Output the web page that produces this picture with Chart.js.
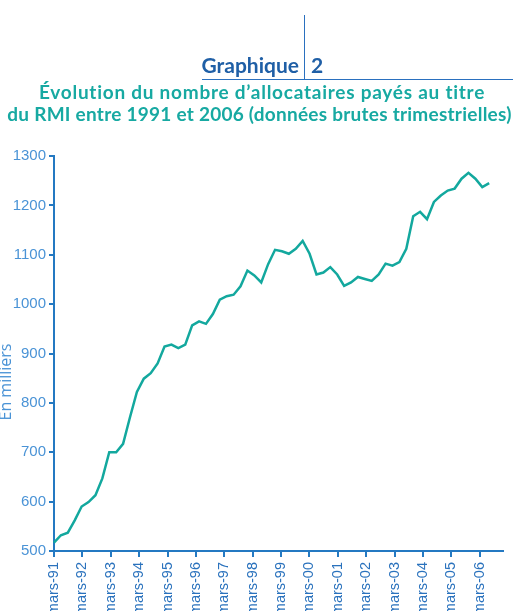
<!DOCTYPE html>
<html lang="fr">
<head>
<meta charset="utf-8">
<title>Graphique 2 - allocataires du RMI</title>
<script src="https://cdn.jsdelivr.net/npm/chart.js@4.4.1/dist/chart.umd.min.js"></script>
<style>
  html, body { margin: 0; padding: 0; background: #fff; overflow: hidden; }
  .wrap { position: relative; width: 513px; height: 611px; }
  #chart { position: absolute; left: 0; top: 0; }
  .head { position: absolute; font-family: Lato, "Open Sans", sans-serif; font-weight: 700; white-space: nowrap; }
  .graphique { left: 0; width: 299px; top: 52px; text-align: right; color: #1f5fa6; font-size: 21px; line-height: 25px; }
  .numero { left: 311px; top: 52px; color: #1f5fa6; font-size: 21px; line-height: 25px; }
  .titre { left: 0; text-align: center; color: #17a9a2; font-size: 19px; line-height: 22px; }
  .vline { position: absolute; left: 303.5px; top: 15px; width: 1.5px; height: 65px; background: #2a70bf; }
  .hline { position: absolute; left: 202px; top: 78.5px; width: 311px; height: 1.5px; background: #2a70bf; }
  .unite { position: absolute; left: -55px; top: 374px; width: 120px; height: 16px; line-height: 16px;
           text-align: center; transform: rotate(-90deg); font-family: "Open Sans", sans-serif; font-size: 16px;
           color: #4a93d6; white-space: nowrap; }
</style>
</head>
<body>
<div class="wrap">
  <canvas id="chart" width="513" height="611"></canvas>
  <div class="vline"></div>
  <div class="hline"></div>
  <div class="head graphique">Graphique</div>
  <div class="head numero">2</div>
  <div class="head titre" style="top: 81px; width: 524px; letter-spacing: 0.75px;">Évolution du nombre d’allocataires payés au titre</div>
  <div class="head titre" style="top: 103px; width: 519px; letter-spacing: 0.25px;">du RMI entre 1991 et 2006 (données brutes trimestrielles)</div>
  <div class="unite">En milliers</div>
</div>
<script>
  "use strict";

  var years = ['91', '92', '93', '94', '95', '96', '97', '98', '99', '00', '01', '02', '03', '04', '05', '06', '07'];
  var months = ['mars', 'juin', 'sept', 'déc'];
  var yearTicks = ['mars-91', 'mars-92', 'mars-93', 'mars-94', 'mars-95', 'mars-96', 'mars-97', 'mars-98',
    'mars-99', 'mars-00', 'mars-01', 'mars-02', 'mars-03', 'mars-04', 'mars-05', 'mars-06'];

  // allocataires payés, en milliers, mars-91 -> déc-06
  var allocataires = [
    517, 532, 537, 562, 590, 599, 613, 647, 700, 700, 717, 771, 822, 849, 860, 880,
    914, 918, 911, 918, 957, 965, 960, 980, 1009, 1016, 1019, 1036, 1068, 1058, 1044, 1081,
    1110, 1107, 1102, 1112, 1128, 1102, 1060, 1064, 1075, 1060, 1037, 1044, 1055, 1051, 1047, 1060,
    1082, 1078, 1085, 1112, 1178, 1187, 1172, 1207, 1220, 1230, 1234, 1254, 1266, 1254, 1237, 1245
  ];

  var quarters = [];
  years.forEach(function (y) {
    months.forEach(function (m) {
      quarters.push(m + '-' + y);
    });
  });
  quarters = quarters.slice(0, allocataires.length + 2);

  var axisBlue = '#2479c2';
  var tickFont = '"Liberation Sans", Arial, sans-serif';

  var ctx = document.getElementById('chart').getContext('2d');
  var chart = new Chart(ctx, {
    type: 'line',
    data: {
      labels: quarters,
      datasets: [{
        data: allocataires,
        borderColor: '#13a89e',
        borderWidth: 2.5,
        pointRadius: 0,
        tension: 0,
        fill: false
      }]
    },
    options: {
      responsive: false,
      animation: false,
      layout: {
        padding: { left: 0, right: 10, top: 156, bottom: 0 }
      },
      plugins: {
        legend: { display: false },
        tooltip: { enabled: false }
      },
      scales: {
        x: {
          type: 'category',
          display: false
        },
        x2: {
          type: 'linear',
          position: 'bottom',
          min: 0,
          max: 15.82,
          grid: {
            drawOnChartArea: false,
            drawTicks: true,
            tickLength: 6,
            lineWidth: 2,
            color: axisBlue
          },
          border: { display: true, color: axisBlue, width: 2 },
          ticks: {
            stepSize: 1,
            includeBounds: false,
            autoSkip: false,
            minRotation: 90,
            maxRotation: 90,
            padding: 5,
            color: '#2a72bd',
            font: { family: tickFont, size: 14.5 },
            callback: function (value) {
              return yearTicks[value];
            }
          },
          afterFit: function (scale) {
            scale.height = 60;
          }
        },
        y: {
          min: 500,
          max: 1300,
          grid: {
            drawOnChartArea: false,
            drawTicks: true,
            tickLength: 5,
            lineWidth: 2,
            color: axisBlue
          },
          border: { display: true, color: axisBlue, width: 2 },
          ticks: {
            stepSize: 100,
            padding: 3,
            color: '#4a93d6',
            font: { family: tickFont, size: 15 },
            callback: function (value) {
              return String(value);
            }
          },
          afterFit: function (scale) {
            scale.width = 54;
          }
        }
      }
    }
  });
</script>
</body>
</html>
